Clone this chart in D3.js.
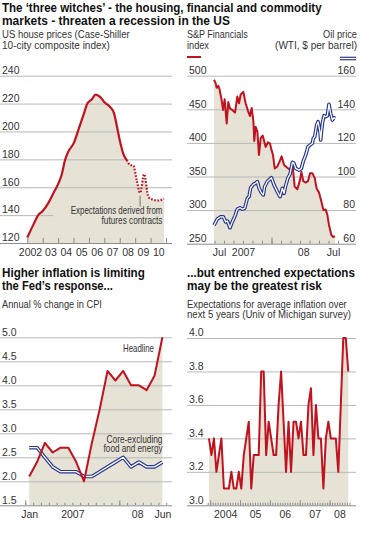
<!DOCTYPE html>
<html><head><meta charset="utf-8">
<script src="https://cdn.jsdelivr.net/npm/d3@7"></script>
<style>
body{margin:0;background:#fff}
svg{display:block}
text{font-family:"Liberation Sans","Arial",sans-serif;fill:#333}
.ttl{font-family:"Liberation Sans Narrow","Arial Narrow","Liberation Sans",sans-serif;font-weight:bold;font-size:13px;fill:#111}
.sub{font-size:10.5px}
.tk{font-size:10.5px}
.ann{font-size:10px}
</style></head>
<body><svg id="c" width="368" height="533"></svg>
<script>
// ---------- DATA ----------
// Panel 1: Case-Shiller 10-city composite (decimal years)
const housingTime   = [2002.0,2002.39,2002.71,2003.0,2003.36,2003.69,2004.03,2004.23,2004.45,2004.66,2005.03,2005.31,2005.64,2005.9,2006.18,2006.44,2006.72,2007.02,2007.37,2007.63,2007.8,2008.02,2008.23,2008.45];
const housingValues = [124,133,140,143,148.6,155.7,163,169,179.5,185.5,192,201,211.7,220,223,226.4,224.8,220.7,217.6,213,204.5,192.6,184,179.5];
const futuresTime   = [2008.45,2008.67,2008.88,2009.1,2009.32,2009.58,2009.86,2010.18,2010.5,2010.87];
const futuresValues = [179.5,176,175.5,165,156,169.3,153,151,150.5,151.7];
const housingTicks  = [120,140,160,180,200,220,240];
const housingYears  = [2002,2003,2004,2005,2006,2007,2008,2009,2010,2011];
const housingLabels = ["2002","03","04","05","06","07","08","09","10"];

// Panel 2: S&P Financials index and WTI oil price
const spfTime   = [2007.496,2007.510,2007.519,2007.534,2007.545,2007.560,2007.575,2007.589,2007.607,2007.621,2007.636,2007.656,2007.680,2007.700,2007.715,2007.730,2007.753,2007.773,2007.797,2007.811,2007.826,2007.841,2007.849,2007.861,2007.876,2007.890,2007.905,2007.923,2007.949,2007.969,2007.987,2007.999,2008.013,2008.028,2008.051,2008.072,2008.089,2008.110,2008.139,2008.162,2008.183,2008.203,2008.227,2008.250,2008.262,2008.279,2008.300,2008.320,2008.338,2008.358,2008.379,2008.396,2008.417,2008.437,2008.455,2008.475,2008.490,2008.504,2008.525,2008.539,2008.557];
const spfValues = [494,489,482,485,479,466,449,465,429,461,451,449,445,469,459,472,476,459,446,440,452,432,403,424,417,382,407,411,394,401,399,390,382,362,365,373,380,367,363,360,371,335,331,345,357,343,341,343,355,355,348,332,326,313,300,301,293,278,263,260,261];
const oilTime   = [2007.496,2007.525,2007.554,2007.577,2007.598,2007.613,2007.636,2007.656,2007.677,2007.700,2007.724,2007.744,2007.765,2007.788,2007.803,2007.817,2007.841,2007.861,2007.876,2007.890,2007.905,2007.928,2007.940,2007.963,2007.999,2008.022,2008.051,2008.075,2008.095,2008.110,2008.124,2008.145,2008.162,2008.183,2008.197,2008.212,2008.241,2008.262,2008.279,2008.300,2008.320,2008.338,2008.358,2008.367,2008.379,2008.396,2008.408,2008.425,2008.431,2008.446,2008.461,2008.475,2008.490,2008.504,2008.519,2008.534,2008.548,2008.557];
const oilValues = [71,74.7,76,76,73,73.5,69.5,73,76,80.6,81.4,80.6,81,87,88,93.3,95.3,96,97,93.3,91,89,94,97,99.3,95,91,88,93,90,94.5,99.3,101.3,108.4,107.8,104.8,103.8,104.8,109.2,112.8,117.7,118.7,119.7,122.7,123.7,130.6,132.6,126.7,121.7,131.6,136.2,135.6,136.2,143,137.6,133.6,135,134.6];
const spfTicks  = [250,300,350,400,450,500];
const oilTicks  = [60,80,100,120,140,160];
const spfLabelPos = [2007.54,2007.75,2008.278,2008.54];
const spfLabels   = ["Jul","2007","08","Jul"];

// Panel 3: CPI annual % change, monthly Jan 2007 - Jun 2008
const cpiMonths   = ["2007-01","2007-02","2007-03","2007-04","2007-05","2007-06","2007-07","2007-08","2007-09","2007-10","2007-11","2007-12","2008-01","2008-02","2008-03","2008-04","2008-05","2008-06"];
const cpiHeadline = [2.1,2.4,2.8,2.6,2.7,2.7,2.4,2.0,2.8,3.5,4.3,4.1,4.3,4.0,4.0,3.9,4.2,5.0];
const cpiCore     = [2.7,2.7,2.5,2.3,2.2,2.2,2.2,2.1,2.1,2.2,2.3,2.4,2.5,2.3,2.4,2.3,2.3,2.4];
const cpiTicks    = [1.5,2.0,2.5,3.0,3.5,4.0,4.5,5.0];
const cpiLabelPos = [2007.042,2007.5,2008.19,2008.458];
const cpiLabels   = ["Jan","2007","08","Jun"];

// Panel 4: Michigan 5-year inflation expectations, monthly from Dec 2003
const michStart  = "2003-12";
const michValues = [3.4,3.3,3.4,3.2,3.3,3.4,3.1,3.1,3.1,3.2,3.1,3.1,3.2,3.1,3.3,3.4,3.5,3.1,3.3,3.3,3.3,3.8,3.8,3.3,3.5,3.4,3.3,3.3,3.6,3.8,3.5,3.2,3.5,3.2,3.5,3.5,3.4,3.5,3.3,3.3,3.6,3.7,3.3,3.6,3.4,3.4,3.1,3.4,3.5,3.4,3.4,3.4,3.2,3.6,4.0,4.0,3.8];
const michTicks  = [3.0,3.2,3.4,3.6,3.8,4.0];
const michLabelPos = [2004.5,2005.5,2006.5,2007.5,2008.33];
const michLabels   = ["2004","05","06","07","08"];

// ---------- STYLE ----------
const RED="#c0131f", BLUE="#25348f", FILL="#e6e2d6", GRID="#b8b8b8", BASE="#8c8c8c";
const svg = d3.select("#c");

function monthToYear(s, offset){ const [y,m]=s.split("-").map(Number); return y+(m-1+offset)/12; }

function txt(x,y,s,cls,anchor,len){
  const t = svg.append("text").attr("x",x).attr("y",y).attr("class",cls).attr("text-anchor",anchor||"start").text(s);
  if(len){
    const w = t.node().getComputedTextLength();
    if(w>0){
      const k = len/w;
      t.attr("transform",`translate(${x},${y}) scale(${k},1) translate(${-x},${-y})`);
    }
  }
  return t;
}

function yGrid(y, ticks, x0, x1, fmt){
  const g = svg.append("g").attr("transform",`translate(${x0},0)`)
    .call(d3.axisRight(y).tickValues(ticks).tickSize(x1-x0).tickFormat(fmt));
  g.attr("font-family",null).attr("font-size",null);
  g.select(".domain").remove();
  g.selectAll(".tick line").attr("stroke",(d,i)=> i===0?BASE:GRID).attr("stroke-width",1);
  g.selectAll(".tick text").attr("x",2).attr("dy",-2.2).attr("text-anchor","start").attr("class","tk").attr("fill","#333");
  return g;
}
function yRightLabels(y, ticks, x1, fmt){
  const g = svg.append("g").attr("transform",`translate(${x1},0)`)
    .call(d3.axisLeft(y).tickValues(ticks).tickSize(0).tickFormat(fmt));
  g.attr("font-family",null).attr("font-size",null);
  g.select(".domain").remove();
  g.selectAll(".tick text").attr("x",-1).attr("dy",-2.2).attr("text-anchor","end").attr("class","tk").attr("fill","#333");
}
function xTicks(x, vals, baseY, len){
  const g = svg.append("g").attr("transform",`translate(0,${baseY})`)
    .call(d3.axisBottom(x).tickValues(vals).tickSize(-len).tickFormat(""));
  g.select(".domain").remove();
  g.selectAll(".tick line").attr("stroke",BASE);
}
function xLabels(x, pos, labels, baseY){
  const g = svg.append("g").attr("transform",`translate(0,${baseY})`)
    .call(d3.axisBottom(x).tickValues(pos).tickSize(0).tickFormat((d,i)=>labels[i]));
  g.attr("font-family",null).attr("font-size",null);
  g.select(".domain").remove();
  g.selectAll(".tick text").attr("y",0).attr("dy",12.5).attr("class","tk").attr("fill","#333");
  return g;
}
function doubleLine(path){
  svg.append("path").attr("d",path).attr("fill","none").attr("stroke",BLUE).attr("stroke-width",3.6).attr("stroke-linejoin","round");
  svg.append("path").attr("d",path).attr("fill","none").attr("stroke","#fff").attr("stroke-width",1.3).attr("stroke-linejoin","round");
}

// ---------- TITLES ----------
txt(2,11.5,"The \u2018three witches\u2019 - the housing, financial and commodity","ttl","start",320);
txt(2,25,"markets - threaten a recession in the US","ttl","start",228);
txt(2,277,"Higher inflation is limiting","ttl","start",143);
txt(2,290.5,"the Fed\u2019s response...","ttl","start",111);
txt(187,277,"...but entrenched expectations","ttl","start",168);
txt(187,290.5,"may be the greatest risk","ttl","start",135);

// ---------- PANEL 1 ----------
{
  const y = d3.scaleLinear([120,240],[243,75.7]);
  const x = d3.scaleLinear([2002,2011],[27.3,166]);
  txt(2,38.5,"US house prices (Case-Shiller","sub","start",128);
  txt(2,49.5,"10-city composite index)","sub","start",108);
  const all = housingTime.map((t,i)=>[t,housingValues[i]]).concat(futuresTime.slice(1).map((t,i)=>[t,futuresValues[i+1]]));
  svg.append("path").datum(all).attr("fill",FILL)
    .attr("d",d3.area().x(d=>x(d[0])).y0(y(120)).y1(d=>y(d[1])).curve(d3.curveMonotoneX));
  const g = yGrid(y, housingTicks, 0, 172, d3.format("d"));
  g.selectAll(".tick").filter(d=>d===140).select("line").attr("x2", x(2003.67));
  xTicks(x, housingYears, 243, 5);
  const lg = xLabels(x, housingYears.slice(0,-1).map(v=>v+0.5), housingLabels, 243);
  lg.selectAll(".tick text").filter((d,i)=>i===0).attr("dx",-5);
  svg.append("path").datum(housingTime.map((t,i)=>[t,housingValues[i]]))
    .attr("fill","none").attr("stroke",RED).attr("stroke-width",2.2)
    .attr("d",d3.line().x(d=>x(d[0])).y(d=>y(d[1])).curve(d3.curveMonotoneX));
  svg.append("path").datum(futuresTime.map((t,i)=>[t,futuresValues[i]]))
    .attr("fill","none").attr("stroke",RED).attr("stroke-width",2.2).attr("stroke-dasharray","1.6,1.6")
    .attr("d",d3.line().x(d=>x(d[0])).y(d=>y(d[1])).curve(d3.curveMonotoneX));
  svg.append("line").attr("x1",x(2009.32)).attr("x2",x(2009.32)).attr("y1",y(156)+3).attr("y2",206.5).attr("stroke","#555").attr("stroke-width",0.8);
  txt(162.5,214.5,"Expectations derived from","ann","end",92);
  txt(162.5,224,"futures contracts","ann","end",61);
}

// ---------- PANEL 2 ----------
{
  const yS = d3.scaleLinear([250,500],[243.7,75.7]);
  const yO = d3.scaleLinear([60,160],[243.7,75.7]);
  const x = d3.scaleLinear([2008,2008.5],[271.5,328.5]);
  txt(187,38.5,"S&P Financials","sub","start",61);
  txt(187,49.5,"index","sub","start",22);
  txt(357,38.5,"Oil price","sub","end",34);
  txt(357,49.5,"(WTI, $ per barrel)","sub","end",82);
  svg.append("line").attr("x1",187).attr("x2",201).attr("y1",57).attr("y2",57).attr("stroke",RED).attr("stroke-width",2);
  doubleLine(d3.line()([[340,58.5],[356,58.5]]));
  const sp = spfTime.map((t,i)=>[t,spfValues[i]]);
  svg.append("path").datum(sp).attr("fill",FILL)
    .attr("d",d3.area().x(d=>x(d[0])).y0(yS(250)).y1(d=>yS(d[1])));
  yGrid(yS, spfTicks, 187, 356, d3.format("d"));
  yRightLabels(yO, oilTicks, 356, d3.format("d"));
  const months = d3.range(0,14).map(i=>2007.5+i/12);
  xTicks(x, months, 243.7, 3);
  xTicks(x, [2008], 243.7, 6);
  xLabels(x, spfLabelPos, spfLabels, 243.7);
  svg.append("path").datum(sp).attr("fill","none").attr("stroke",RED).attr("stroke-width",2).attr("stroke-linejoin","round")
    .attr("d",d3.line().x(d=>x(d[0])).y(d=>yS(d[1])));
  doubleLine(d3.line().x(d=>x(d[0])).y(d=>yO(d[1]))(oilTime.map((t,i)=>[t,oilValues[i]])));
}

// ---------- PANEL 3 ----------
{
  const y = d3.scaleLinear([1.5,5.0],[505.3,337.3]);
  const x = d3.scaleLinear([2007,2008.5],[25.3,166.3]);
  txt(2,308,"Annual % change in CPI","sub","start",100);
  const hd = cpiMonths.map((m,i)=>[monthToYear(m,0.5),cpiHeadline[i]]);
  const cr = cpiMonths.map((m,i)=>[monthToYear(m,0.5),cpiCore[i]]);
  svg.append("path").datum(hd).attr("fill",FILL)
    .attr("d",d3.area().x(d=>x(d[0])).y0(y(1.5)).y1(d=>y(d[1])));
  yGrid(y, cpiTicks, 0, 172, d3.format(".1f"));
  const months = d3.range(0,19).map(i=>2007+i/12);
  xTicks(x, months, 505.3, 2.5);
  xTicks(x, [2007,2008], 505.3, 5);
  xLabels(x, cpiLabelPos, cpiLabels, 505.3);
  doubleLine(d3.line().x(d=>x(d[0])).y(d=>y(d[1]))(cr));
  svg.append("path").datum(hd).attr("fill","none").attr("stroke",RED).attr("stroke-width",2).attr("stroke-linejoin","round")
    .attr("d",d3.line().x(d=>x(d[0])).y(d=>y(d[1])));
  txt(154,352.5,"Headline","ann","end",31);
  txt(162.5,443,"Core-excluding","ann","end",56);
  txt(162.5,452.5,"food and energy","ann","end",59);
}

// ---------- PANEL 4 ----------
{
  const y = d3.scaleLinear([3.0,4.0],[505.3,338]);
  const x = d3.scaleLinear([2004,2008],[210.2,329.6]);
  txt(187,308,"Expectations for average inflation over","sub","start",160);
  txt(187,318.5,"next 5 years (Univ of Michigan survey)","sub","start",164);
  const s0 = monthToYear(michStart,0.5);
  const md = michValues.map((v,i)=>[s0+i/12,v]);
  svg.append("path").datum(md).attr("fill",FILL)
    .attr("d",d3.area().x(d=>x(d[0])).y0(y(3.0)).y1(d=>y(d[1])));
  yGrid(y, michTicks, 187, 356, d3.format(".1f"));
  const months = d3.range(-1,57).map(i=>2004+i/12);
  xTicks(x, months, 505.3, 2.5);
  xTicks(x, [2004,2005,2006,2007,2008], 505.3, 5);
  xLabels(x, michLabelPos, michLabels, 505.3);
  svg.append("path").datum(md).attr("fill","none").attr("stroke",RED).attr("stroke-width",2).attr("stroke-linejoin","round")
    .attr("d",d3.line().x(d=>x(d[0])).y(d=>y(d[1])));
}
</script></body></html>
